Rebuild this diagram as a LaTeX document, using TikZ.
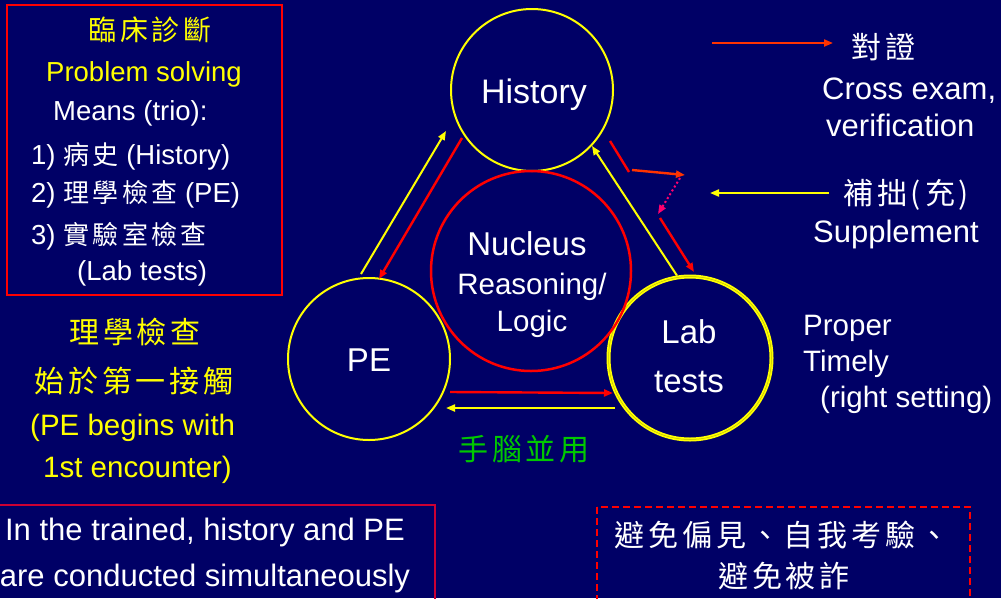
\documentclass[tikz,border=0pt]{standalone}
\usepackage{fontspec}
\setmainfont{Liberation Sans}
\newfontfamily\cjk[LetterSpace=13]{Noto Sans CJK TC}
\usetikzlibrary{arrows.meta,calc}
\definecolor{navy}{RGB}{0,0,102}
\definecolor{ylw}{RGB}{255,255,0}
\definecolor{rd}{RGB}{255,0,0}
\definecolor{orng}{RGB}{255,51,0}
\definecolor{pnk}{RGB}{255,0,110}
\definecolor{grn}{RGB}{0,200,0}
\definecolor{dkred}{RGB}{204,0,51}
\newcommand\fsz[1]{\fontsize{#1}{#1}\selectfont}
\begin{document}
\begin{tikzpicture}[x=1pt,y=-1pt,
  txt/.style={inner sep=0pt,anchor=base,text=white},
  txtw/.style={inner sep=0pt,anchor=base west,text=white},
  bigcirc/.style={circle,draw=ylw,line width=2pt,inner sep=0pt,minimum size=162pt},
  tip/.style={-{Triangle[length=9pt,width=7pt]}},
  yarr/.style={tip,draw=ylw,line width=2pt},
  rarr/.style={tip,draw=rd,line width=2.4pt},
]
\fill[navy] (0,0) rectangle (1001,598);
\useasboundingbox (0,0) rectangle (1001,598);

% left top box
\draw[rd,line width=2pt] (7,5) rectangle (282,295);
\node[txt,text=ylw,font=\cjk\fsz{28}] (t1) at (150,40) {臨床診斷};
\node[txt,text=ylw,font=\fsz{27.5}] (t2) at (144,81) {Problem solving};
\node[txtw,font=\fsz{27.5}] (t3) at (53,120) {Means (trio):};
\node[txtw,font=\fsz{27.5}] (t4) at (31,164) {1) {\cjk\fsz{26}病史} (History)};
\node[txtw,font=\fsz{27.5}] (t5) at (31,202) {2) {\cjk\fsz{26}理學檢查} (PE)};
\node[txtw,font=\fsz{27.5}] (t6) at (31,244) {3) {\cjk\fsz{26}實驗室檢查}};
\node[txtw,font=\fsz{27.5}] (t7) at (77,280) {(Lab tests)};

% left yellow text
\node[txt,text=ylw,font=\cjk\fsz{30}] (y1) at (135,343) {理學檢查};
\node[txt,text=ylw,font=\cjk\fsz{30}] (y2) at (134,392) {始於第一接觸};
\node[txtw,text=ylw,font=\fsz{29.5}] (y3) at (30,435) {(PE begins with};
\node[txtw,text=ylw,font=\fsz{29.5}] (y4) at (43,477) {1st encounter)};

% bottom-left box
\draw[dkred,line width=1.5pt] (-10,505) rectangle (435,640);
\node[txt,font=\fsz{31}] (b1) at (205,540) {In the trained, history and PE};
\node[txt,font=\fsz{31}] (b2) at (205,586) {are conducted simultaneously};

% circles
\node[bigcirc] (hist) at (532,90) {};
\node[bigcirc] (pe) at (369,359) {};
\node[circle,draw=ylw,line width=4pt,inner sep=0pt,minimum size=163pt] (lab) at (690,358) {};
\draw[ylw!75!black,line width=0.5pt] (lab.center) circle (81.5pt);
\node[circle,draw=rd,line width=2.5pt,inner sep=0pt,minimum size=200pt] (nuc) at (531,271) {};

\node[txt,font=\fsz{34}] (hl) at (534,103) {History};
\node[txt,font=\fsz{33}] (pl) at (369,371) {PE};
\node[txt,font=\fsz{33}] (ll1) at (689,343) {Lab};
\node[txt,font=\fsz{33}] (ll2) at (689,392) {tests};
\node[txt,font=\fsz{33}] (n1) at (527,255) {Nucleus};
\node[txt,font=\fsz{29.5}] (n2) at (532,294) {Reasoning/};
\node[txt,font=\fsz{29.5}] (n3) at (532,331) {Logic};

% connector end points
\coordinate (peA) at (361,274);
\coordinate (hiA) at (446,131);
\coordinate (hiB) at (462,138);
\coordinate (peB) at (379,279);
\coordinate (peC) at (450,392);
\coordinate (laC) at (613,393);
\coordinate (laD) at (615,408);
\coordinate (peD) at (446,408);
\coordinate (r1) at (610,141);
\coordinate (r2) at (629,172);
\coordinate (r3) at (632,170);
\coordinate (r4) at (685,175);
\coordinate (r5) at (680,178);
\coordinate (r6) at (658,214);
\coordinate (r7) at (660,218);
\coordinate (laE) at (694,272);

\draw[yarr] (peA) -- (hiA);
\draw[rarr] (hiB) -- (peB);
\draw[yarr] (lab.99) -- (hist.317);
\draw[rarr] (peC) -- (laC);
\draw[yarr] (laD) -- (peD);
\draw[rd,line width=2.4pt] (r1) -- (r2);
\draw[tip,orng,line width=2.4pt] (r3) -- (r4);
\draw[tip,pnk,line width=2pt,dash pattern=on 2pt off 2.5pt] (r5) -- (r6);
\draw[rarr] (r7) -- (laE);

\node[txt,text=grn,font=\cjk\fsz{30}] (g1) at (524,460) {手腦並用};

% right side
\coordinate (ra1) at (712,43);
\coordinate (ra2) at (833,43);
\node[txtw,font=\cjk\fsz{30}] (c1) at (851,58) {對證};
\draw[tip,orng,line width=2pt] (ra1) -- (ra2);
\node[txtw,font=\fsz{31}] (c2) at (822,99) {Cross exam,};
\node[txtw,font=\fsz{31}] (c3) at (826,136) {verification};

\node[txtw,font=\cjk\fsz{30}] (s1) at (843,204) {補拙(充)};
\coordinate (sa) at (829,193);
\coordinate (sb) at (710,193);
\draw[yarr] (sa) -- (sb);
\node[txtw,font=\fsz{31}] (s2) at (813,242) {Supplement};

\node[txtw,font=\fsz{29.5}] (p1) at (803,335) {Proper};
\node[txtw,font=\fsz{29.5}] (p2) at (803,371) {Timely};
\node[txtw,font=\fsz{29.5}] (p3) at (820,407) {(right setting)};

% dashed box
\draw[rd,line width=2pt,dash pattern=on 7pt off 4pt] (597,507) rectangle (970,640);
\node[txt,font=\cjk\fsz{30}] (d1) at (782,546) {避免偏見、自我考驗、};
\node[txt,font=\cjk\fsz{30}] (d2) at (784,587) {避免被詐};
\end{tikzpicture}
\end{document}
